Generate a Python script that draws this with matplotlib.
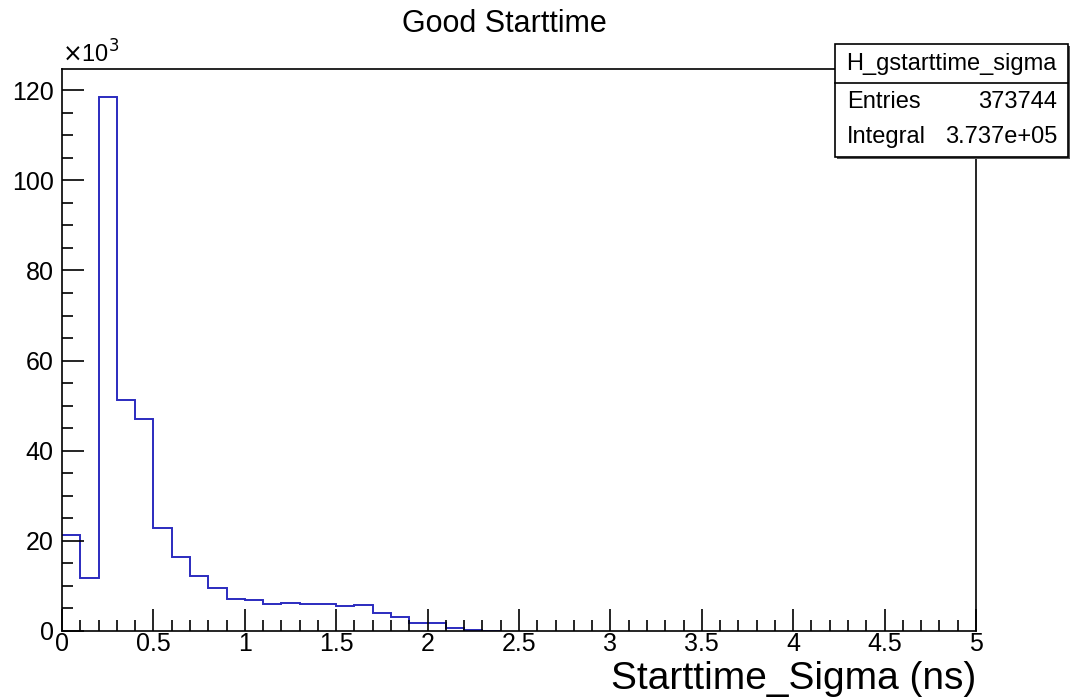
import numpy as np
import matplotlib
matplotlib.use("Agg")
import matplotlib.pyplot as plt
from matplotlib.ticker import MultipleLocator
from matplotlib.patches import Rectangle

plt.rcParams["font.family"] = ["Liberation Sans", "DejaVu Sans"]

# histogram contents (units of 10^3 entries, bin width 0.1 ns)
bin_edges = np.round(np.arange(0.0, 2.41, 0.1), 2)
counts_k = [21.3, 11.8, 118.5, 51.3, 47.0, 22.8, 16.4, 12.2, 9.6, 7.2,
            6.9, 5.9, 6.2, 6.1, 6.1, 5.5, 5.8, 4.1, 3.0, 1.7,
            1.7, 0.7, 0.3, 0.1]

hist_name = "H_gstarttime_sigma"
n_entries = "373744"
integral = "3.737e+05"

fig = plt.figure(figsize=(10.71, 6.97), dpi=100)
ax = fig.add_axes([62 / 1071, 66 / 697, 914 / 1071, 562 / 697])

ax.stairs(counts_k, bin_edges, color="#2b2bbf", lw=1.4, baseline=None)

ax.set_xlim(0, 5)
ax.set_ylim(0, 124.7)
ax.xaxis.set_major_locator(MultipleLocator(0.5))
ax.xaxis.set_minor_locator(MultipleLocator(0.1))
ax.yaxis.set_major_locator(MultipleLocator(20))
ax.yaxis.set_minor_locator(MultipleLocator(5))
ax.set_xticks([0, 0.5, 1, 1.5, 2, 2.5, 3, 3.5, 4, 4.5, 5])
ax.set_xticklabels(["0", "0.5", "1", "1.5", "2", "2.5", "3", "3.5", "4", "4.5", "5"])

ax.tick_params(which="both", direction="in", top=False, right=False, labelsize=18, width=1.2)
ax.tick_params(which="major", length=16)
ax.tick_params(which="minor", length=8)
ax.tick_params(axis="x", which="major", pad=1)
ax.tick_params(axis="y", which="major", pad=6)
for s in ax.spines.values():
    s.set_linewidth(1.2)

fig.text(976 / 1071, 1 - 679 / 697, "Starttime_Sigma (ns)", fontsize=28, ha="right", va="center")
ax.text(0.0, 1.003, r"$\times$10$^{3}$", transform=ax.transAxes, fontsize=17,
        ha="left", va="bottom")

fig.text(504 / 1071, 1 - 24 / 697, "Good Starttime", fontsize=22, ha="center", va="center")

# stats box (drawn in figure pixels, top-right corner)
def fx(px):
    return px / 1071

def fy(py):
    return 1 - py / 697

box_l, box_r, box_t, box_b, box_sep = 835, 1068, 44, 157, 83
fig.patches.append(Rectangle((fx(box_l) + 0.002, fy(box_b) - 0.003), fx(box_r) - fx(box_l),
                             fy(box_t) - fy(box_b), transform=fig.transFigure,
                             facecolor="#555555", edgecolor="none", zorder=5))
fig.patches.append(Rectangle((fx(box_l), fy(box_b)), fx(box_r) - fx(box_l),
                             fy(box_t) - fy(box_b), transform=fig.transFigure,
                             facecolor="white", edgecolor="black", lw=1.2, zorder=6))
fig.add_artist(plt.Line2D([fx(box_l), fx(box_r)], [fy(box_sep), fy(box_sep)],
                          transform=fig.transFigure, color="black", lw=1.2, zorder=7))
fig.text(fx((box_l + box_r) / 2), fy(64), hist_name, fontsize=17, ha="center", va="center", zorder=8)
fig.text(fx(847), fy(102), "Entries", fontsize=17, ha="left", va="center", zorder=8)
fig.text(fx(1057), fy(102), n_entries, fontsize=17, ha="right", va="center", zorder=8)
fig.text(fx(847), fy(137), "Integral", fontsize=17, ha="left", va="center", zorder=8)
fig.text(fx(1057), fy(137), integral, fontsize=17, ha="right", va="center", zorder=8)

fig.savefig("out.png", dpi=100)
